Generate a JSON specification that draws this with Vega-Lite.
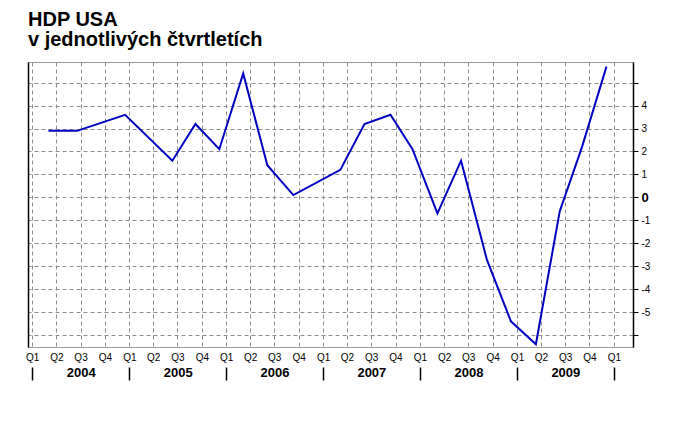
{
  "$schema": "https://vega.github.io/schema/vega-lite/v6.json",
  "width": 605,
  "height": 285,
  "padding": {"left": 25, "top": 10, "right": 5, "bottom": 5},
  "background": "white",
  "title": {
    "text": ["HDP USA", "v jednotlivých čtvrtletích"],
    "anchor": "start",
    "frame": "group",
    "font": "Liberation Sans",
    "fontSize": 20,
    "fontWeight": "bold",
    "color": "black",
    "lineHeight": 20,
    "offset": 12
  },
  "config": {
    "view": {"stroke": "#999999", "strokeWidth": 1},
    "axis": {"labelFont": "Liberation Sans", "labelColor": "black", "titleFont": "Liberation Sans"}
  },
  "datasets": {
    "gdp": [
      {"date": "2004/03/02", "value": 2.9},
      {"date": "2004/06/18", "value": 2.9},
      {"date": "2004/12/16", "value": 3.6},
      {"date": "2005/06/12", "value": 1.6},
      {"date": "2005/09/07", "value": 3.2},
      {"date": "2005/12/06", "value": 2.1},
      {"date": "2006/03/06", "value": 5.4},
      {"date": "2006/06/05", "value": 1.4},
      {"date": "2006/09/11", "value": 0.1},
      {"date": "2007/03/07", "value": 1.2},
      {"date": "2007/06/06", "value": 3.2},
      {"date": "2007/09/12", "value": 3.6},
      {"date": "2007/12/04", "value": 2.1},
      {"date": "2008/03/07", "value": -0.7},
      {"date": "2008/06/04", "value": 1.6},
      {"date": "2008/09/09", "value": -2.7},
      {"date": "2008/12/09", "value": -5.4},
      {"date": "2009/03/13", "value": -6.4},
      {"date": "2009/06/11", "value": -0.6},
      {"date": "2009/09/03", "value": 2.2},
      {"date": "2009/12/04", "value": 5.7}
    ],
    "years": [
      {"start": "2004/01/01", "mid": "2004/07/02", "year": "2004"},
      {"start": "2005/01/01", "mid": "2005/07/02", "year": "2005"},
      {"start": "2006/01/01", "mid": "2006/07/02", "year": "2006"},
      {"start": "2007/01/01", "mid": "2007/07/02", "year": "2007"},
      {"start": "2008/01/01", "mid": "2008/07/02", "year": "2008"},
      {"start": "2009/01/01", "mid": "2009/07/02", "year": "2009"},
      {"start": "2010/01/01", "mid": null, "year": null}
    ]
  },
  "layer": [
    {
      "data": {"name": "gdp"},
      "mark": {"type": "line", "color": "#0000c0", "strokeWidth": 2},
      "encoding": {
        "x": {
          "field": "date",
          "type": "temporal",
          "scale": {"domain": [{"year": 2003, "month": 12, "date": 16}, {"year": 2010, "month": 3, "date": 14}]},
          "axis": {
            "orient": "bottom",
            "title": null,
            "values": [
              {"year": 2004, "month": 1, "date": 1}, {"year": 2004, "month": 4, "date": 1}, {"year": 2004, "month": 7, "date": 1}, {"year": 2004, "month": 10, "date": 1},
              {"year": 2005, "month": 1, "date": 1}, {"year": 2005, "month": 4, "date": 1}, {"year": 2005, "month": 7, "date": 1}, {"year": 2005, "month": 10, "date": 1},
              {"year": 2006, "month": 1, "date": 1}, {"year": 2006, "month": 4, "date": 1}, {"year": 2006, "month": 7, "date": 1}, {"year": 2006, "month": 10, "date": 1},
              {"year": 2007, "month": 1, "date": 1}, {"year": 2007, "month": 4, "date": 1}, {"year": 2007, "month": 7, "date": 1}, {"year": 2007, "month": 10, "date": 1},
              {"year": 2008, "month": 1, "date": 1}, {"year": 2008, "month": 4, "date": 1}, {"year": 2008, "month": 7, "date": 1}, {"year": 2008, "month": 10, "date": 1},
              {"year": 2009, "month": 1, "date": 1}, {"year": 2009, "month": 4, "date": 1}, {"year": 2009, "month": 7, "date": 1}, {"year": 2009, "month": 10, "date": 1},
              {"year": 2010, "month": 1, "date": 1}
            ],
            "format": "Q%q",
            "grid": true,
            "gridDash": [4, 3],
            "gridColor": "#8c8c8c",
            "domain": false,
            "ticks": false,
            "labelPadding": 5,
            "labelFontSize": 10,
            "labelFlush": false,
            "labelOverlap": false
          }
        },
        "y": {
          "field": "value",
          "type": "quantitative",
          "scale": {"domain": [-6.52, 5.9], "nice": false, "zero": false},
          "axis": {
            "orient": "right",
            "title": null,
            "values": [-6, -5, -4, -3, -2, -1, 0, 1, 2, 3, 4, 5],
            "labelExpr": "datum.value == 5 || datum.value == -6 ? '' : '' + datum.value",
            "grid": true,
            "gridDash": [4, 3],
            "gridColor": "#8c8c8c",
            "domainColor": "black",
            "domainWidth": 1.5,
            "tickColor": "black",
            "tickSize": 5,
            "labelPadding": 3,
            "labelFontSize": {"condition": {"test": "datum.value == 0", "value": 13}, "value": 10},
            "labelFontWeight": {"condition": {"test": "datum.value == 0", "value": "bold"}, "value": "normal"}
          }
        }
      }
    },
    {
      "data": {"name": "years"},
      "mark": {"type": "point", "opacity": 0},
      "encoding": {
        "x": {
          "field": "mid",
          "type": "temporal",
          "axis": {
            "orient": "bottom",
            "title": null,
            "offset": 18,
            "values": [
              {"year": 2004, "month": 7, "date": 2}, {"year": 2005, "month": 7, "date": 2}, {"year": 2006, "month": 7, "date": 2},
              {"year": 2007, "month": 7, "date": 2}, {"year": 2008, "month": 7, "date": 2}, {"year": 2009, "month": 7, "date": 2}
            ],
            "format": "%Y",
            "grid": false,
            "domain": false,
            "ticks": false,
            "labelPadding": 1,
            "labelFontSize": 13,
            "labelFontWeight": "bold",
            "labelFlush": false,
            "labelOverlap": false
          }
        },
        "y": {
          "datum": 0,
          "type": "quantitative",
          "axis": {"orient": "left", "title": null, "labels": false, "ticks": false, "grid": false, "domainColor": "black", "domainWidth": 1.5}
        }
      }
    },
    {
      "data": {"name": "years"},
      "mark": {"type": "point", "opacity": 0},
      "encoding": {
        "x": {
          "field": "start",
          "type": "temporal",
          "axis": {
            "orient": "bottom",
            "title": null,
            "offset": 20,
            "values": [
              {"year": 2004, "month": 1, "date": 1}, {"year": 2005, "month": 1, "date": 1}, {"year": 2006, "month": 1, "date": 1},
              {"year": 2007, "month": 1, "date": 1}, {"year": 2008, "month": 1, "date": 1}, {"year": 2009, "month": 1, "date": 1},
              {"year": 2010, "month": 1, "date": 1}
            ],
            "labels": false,
            "grid": false,
            "domain": false,
            "ticks": true,
            "tickSize": 13,
            "tickWidth": 1.5,
            "tickColor": "black"
          }
        }
      }
    }
  ],
  "resolve": {"axis": {"x": "independent", "y": "independent"}}
}
